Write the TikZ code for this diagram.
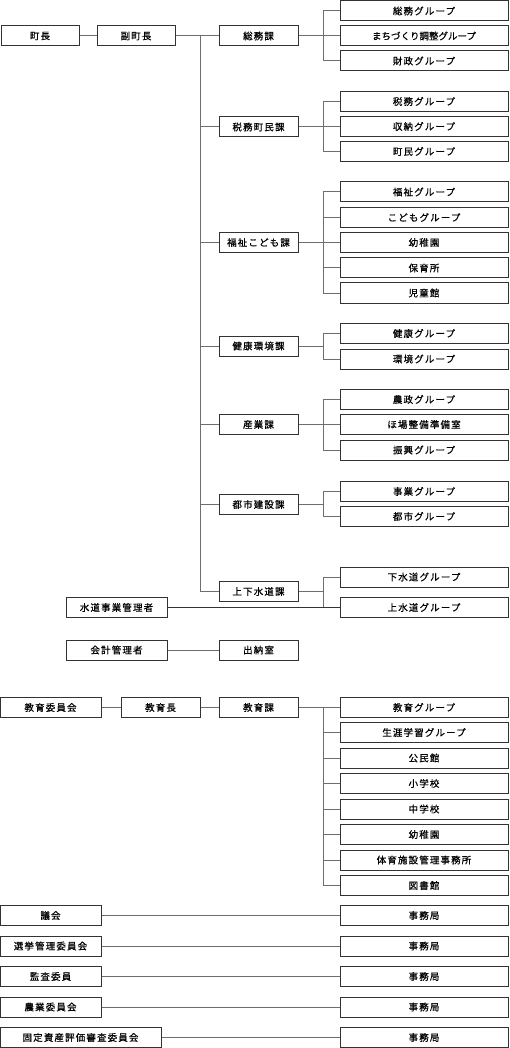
\documentclass[tikz,border=0pt]{standalone}
\usepackage{fontspec}
\setmainfont{Noto Sans CJK JP}[LetterSpace=12, FakeBold=0.6]
\definecolor{boxc}{HTML}{333333}
\definecolor{wirec}{HTML}{6E6E6E}
\begin{document}
\begin{tikzpicture}[x=1pt, y=-1pt,
    box/.style={draw=boxc, line width=1pt, fill=white, minimum height=20pt,
      inner sep=0pt, font=\fontsize{9.5}{10}\selectfont},
    ka/.style={box, minimum width=79pt},
    grp/.style={box, minimum width=168pt},
    wire/.style={draw=wirec, line width=1pt}]

    % 画布
    \useasboundingbox (0,0) rectangle (509,1048);

    % 町长与副町长
    \node[box, minimum width=78pt] (chocho) at (40,36) {町長};
    \node[box, minimum width=78pt] (fukucho) at (136,36) {副町長};
    \coordinate (trunk) at (200,36);

    % 各课
    \node[ka] (somu) at (258.5,36) {総務課};
    \node[ka] (zeimu) at (258.5,127) {税務町民課};
    \node[ka] (fukushi) at (258.5,242.5) {福祉こども課};
    \node[ka] (kenko) at (258.5,346) {健康環境課};
    \node[ka] (sangyo) at (258.5,424.5) {産業課};
    \node[ka] (toshi) at (258.5,504.5) {都市建設課};
    \node[ka] (josui) at (258.5,591.5) {上下水道課};

    % 总务课的组
    \node[grp] (somuA) at (424,11) {総務グループ};
    \node[grp, font=\fontsize{9.5}{10}\selectfont\addfontfeatures{LetterSpace=0}] (somuB) at (424,36) {まちづくり調整グループ};
    \node[grp] (somuC) at (424,61) {財政グループ};

    % 税务町民课的组
    \node[grp] (zeimuA) at (424,101.5) {税務グループ};
    \node[grp] (zeimuB) at (424,126.5) {収納グループ};
    \node[grp] (zeimuC) at (424,151.5) {町民グループ};

    % 福祉课的组
    \node[grp] (fukushiA) at (424,192) {福祉グループ};
    \node[grp] (fukushiB) at (424,217.5) {こどもグループ};
    \node[grp] (fukushiC) at (424,242.5) {幼稚園};
    \node[grp] (fukushiD) at (424,268) {保育所};
    \node[grp] (fukushiE) at (424,293) {児童館};

    % 健康环境课的组
    \node[grp] (kenkoA) at (424,333.5) {健康グループ};
    \node[grp] (kenkoB) at (424,359) {環境グループ};

    % 产业课的组
    \node[grp] (sangyoA) at (424,399.5) {農政グループ};
    \node[grp] (sangyoB) at (424,424.5) {ほ場整備準備室};
    \node[grp] (sangyoC) at (424,450) {振興グループ};

    % 都市建设课的组
    \node[grp] (toshiA) at (424,491.5) {事業グループ};
    \node[grp] (toshiB) at (424,516.5) {都市グループ};

    % 上下水道课的组
    \node[grp] (josuiA) at (424,577) {下水道グループ};
    \node[grp] (josuiB) at (424,607.5) {上水道グループ};
    \node[box, minimum width=101pt] (suido) at (116.5,607.5) {水道事業管理者};

    % 会计
    \node[box, minimum width=101pt] (kaikei) at (116.5,650) {会計管理者};
    \node[ka] (suito) at (258.5,650) {出納室};

    % 教育
    \node[box, minimum width=101pt] (kyoiin) at (50.5,707.5) {教育委員会};
    \node[ka] (kyocho) at (160.5,707.5) {教育長};
    \node[ka] (kyoka) at (258.5,707.5) {教育課};
    \node[grp] (kyoA) at (424,707.5) {教育グループ};
    \node[grp] (kyoB) at (424,732.5) {生涯学習グループ};
    \node[grp] (kyoC) at (424,758) {公民館};
    \node[grp] (kyoD) at (424,783.5) {小学校};
    \node[grp] (kyoE) at (424,809) {中学校};
    \node[grp] (kyoF) at (424,834.5) {幼稚園};
    \node[grp] (kyoG) at (424,860) {体育施設管理事務所};
    \node[grp] (kyoH) at (424,885.5) {図書館};

    % 委员会与事务局
    \node[box, minimum width=101pt] (gikai) at (50.5,915.5) {議会};
    \node[box, minimum width=101pt] (senkyo) at (50.5,946) {選挙管理委員会};
    \node[box, minimum width=101pt] (kansa) at (50.5,976.5) {監査委員};
    \node[box, minimum width=101pt] (nogyo) at (50.5,1007) {農業委員会};
    \node[box, minimum width=161pt] (kotei) at (80.5,1037.5) {固定資産評価審査委員会};
    \node[grp] (gikaiJ) at (424,915.5) {事務局};
    \node[grp] (senkyoJ) at (424,946) {事務局};
    \node[grp] (kansaJ) at (424,976.5) {事務局};
    \node[grp] (nogyoJ) at (424,1007) {事務局};
    \node[grp] (koteiJ) at (424,1037.5) {事務局};

    % 主干线
    \draw[wire] (chocho) -- (fukucho);
    \draw[wire] (fukucho) -- (somu);
    \draw[wire] (trunk) |- (zeimu.west);
    \draw[wire] (trunk) |- (fukushi.west);
    \draw[wire] (trunk) |- (kenko.west);
    \draw[wire] (trunk) |- (sangyo.west);
    \draw[wire] (trunk) |- (toshi.west);
    \draw[wire] (trunk) |- (josui.west);

    % 课到组
    \draw[wire] (somuA.west) -- ++(-16,0) |- (somu.east);
    \draw[wire] (somuB.west) -- (somu.east);
    \draw[wire] (somuC.west) -- ++(-16,0) |- (somu.east);
    \draw[wire] (zeimuA.west) -- ++(-16,0) |- (zeimu.east);
    \draw[wire] (zeimuB.west) -- ++(-16,0) |- (zeimu.east);
    \draw[wire] (zeimuC.west) -- ++(-16,0) |- (zeimu.east);
    \draw[wire] (fukushiA.west) -- ++(-16,0) |- (fukushi.east);
    \draw[wire] (fukushiB.west) -- ++(-16,0) |- (fukushi.east);
    \draw[wire] (fukushiC.west) -- (fukushi.east);
    \draw[wire] (fukushiD.west) -- ++(-16,0) |- (fukushi.east);
    \draw[wire] (fukushiE.west) -- ++(-16,0) |- (fukushi.east);
    \draw[wire] (kenkoA.west) -- ++(-16,0) |- (kenko.east);
    \draw[wire] (kenkoB.west) -- ++(-16,0) |- (kenko.east);
    \draw[wire] (sangyoA.west) -- ++(-16,0) |- (sangyo.east);
    \draw[wire] (sangyoB.west) -- (sangyo.east);
    \draw[wire] (sangyoC.west) -- ++(-16,0) |- (sangyo.east);
    \draw[wire] (toshiA.west) -- ++(-16,0) |- (toshi.east);
    \draw[wire] (toshiB.west) -- ++(-16,0) |- (toshi.east);
    \draw[wire] (josuiA.west) -- ++(-16,0) |- (josui.east);
    \draw[wire] (josuiB.west) -- ++(-16,0) |- (josui.east);
    \draw[wire, draw=boxc] (suido) -- (josuiB);

    % 会计与教育
    \draw[wire] (kaikei) -- (suito);
    \draw[wire] (kyoiin) -- (kyocho);
    \draw[wire] (kyocho) -- (kyoka);
    \draw[wire] (kyoA.west) -- (kyoka.east);
    \draw[wire] (kyoB.west) -- ++(-16,0) |- (kyoka.east);
    \draw[wire] (kyoC.west) -- ++(-16,0) |- (kyoka.east);
    \draw[wire] (kyoD.west) -- ++(-16,0) |- (kyoka.east);
    \draw[wire] (kyoE.west) -- ++(-16,0) |- (kyoka.east);
    \draw[wire] (kyoF.west) -- ++(-16,0) |- (kyoka.east);
    \draw[wire] (kyoG.west) -- ++(-16,0) |- (kyoka.east);
    \draw[wire] (kyoH.west) -- ++(-16,0) |- (kyoka.east);

    % 委员会连线
    \draw[wire] (gikai) -- (gikaiJ);
    \draw[wire] (senkyo) -- (senkyoJ);
    \draw[wire] (kansa) -- (kansaJ);
    \draw[wire] (nogyo) -- (nogyoJ);
    \draw[wire] (kotei) -- (koteiJ);

  \end{tikzpicture}
\end{document}
